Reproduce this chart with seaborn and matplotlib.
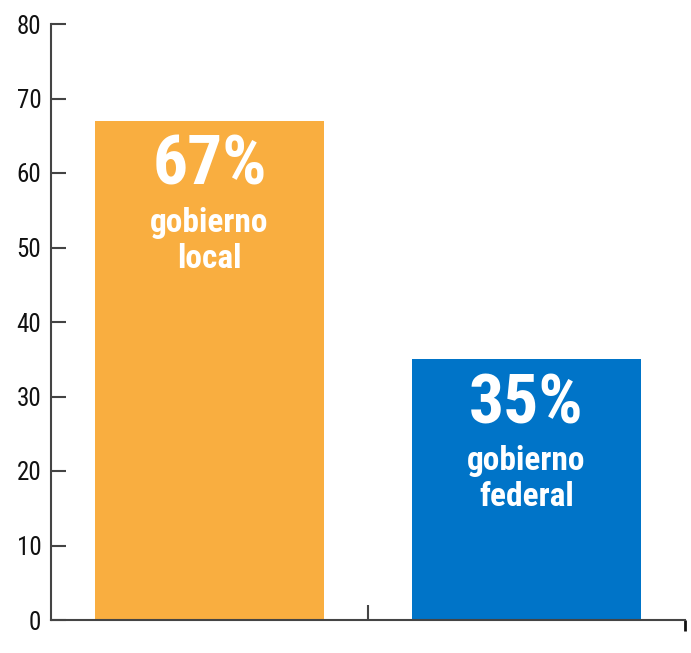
import matplotlib
matplotlib.use("Agg")
import matplotlib.pyplot as plt
from matplotlib import font_manager
import seaborn as sns
import pandas as pd

categories = ["gobierno\nlocal", "gobierno\nfederal"]
values = [67, 35]
labels = ["67%", "35%"]
colors = ["#F9AE40", "#0074C8"]
yticks = [0, 10, 20, 30, 40, 50, 60, 70, 80]

sns.set_theme(style="white")
avail = {f.name for f in font_manager.fontManager.ttflist}
fam = "DejaVu Sans"
for cand in ["Liberation Sans Narrow", "Roboto Condensed", "Open Sans Condensed", "Liberation Sans"]:
    if cand in avail:
        fam = cand
        break
plt.rcParams["font.family"] = [fam, "DejaVu Sans"]

df = pd.DataFrame({"cat": categories, "val": values})

fig = plt.figure(figsize=(6.91, 6.53), dpi=100)
ax = fig.add_axes([51/691, 33/653, (685-51)/691, (620-24)/653])
sns.barplot(data=df, x="cat", y="val", hue="cat", palette=colors, width=0.72,
            legend=False, ax=ax, saturation=1, linewidth=0)

ax.set_ylim(0, 80)
ax.set_xlim(-0.5, 1.5)
ax.set_yticks(yticks)
ax.set_yticklabels([str(t) for t in yticks])
ax.set_xlabel("")
ax.set_ylabel("")
ax.set_xticks([0.5])
ax.set_xticklabels([""])
ax.set_xticks([1.5], minor=True)
ax.tick_params(axis="x", which="major", direction="in", length=11, width=1.5, color="#444444", bottom=True)
ax.tick_params(axis="x", which="minor", direction="out", length=8, width=2.0, color="#111111", bottom=True)
ax.tick_params(axis="y", direction="in", length=11, width=1.5, color="#444444", pad=7,
               labelsize=18, labelcolor="#111111", left=True)

for s in ["top", "right"]:
    ax.spines[s].set_visible(False)
for s in ["left", "bottom"]:
    ax.spines[s].set_color("#444444")
    ax.spines[s].set_linewidth(1.5)

for i, (v, lab, cat) in enumerate(zip(values, labels, categories)):
    line1, line2 = cat.split("\n")
    ax.annotate(lab, xy=(i, v), xytext=(0, -64), textcoords="offset pixels",
                ha="center", va="baseline", color="white", fontsize=50, fontweight="bold")
    ax.annotate(line1, xy=(i, v), xytext=(0, -111), textcoords="offset pixels",
                ha="center", va="baseline", color="white", fontsize=24, fontweight="bold")
    ax.annotate(line2, xy=(i, v), xytext=(0, -147), textcoords="offset pixels",
                ha="center", va="baseline", color="white", fontsize=24, fontweight="bold")

fig.savefig("out.png", dpi=100)
